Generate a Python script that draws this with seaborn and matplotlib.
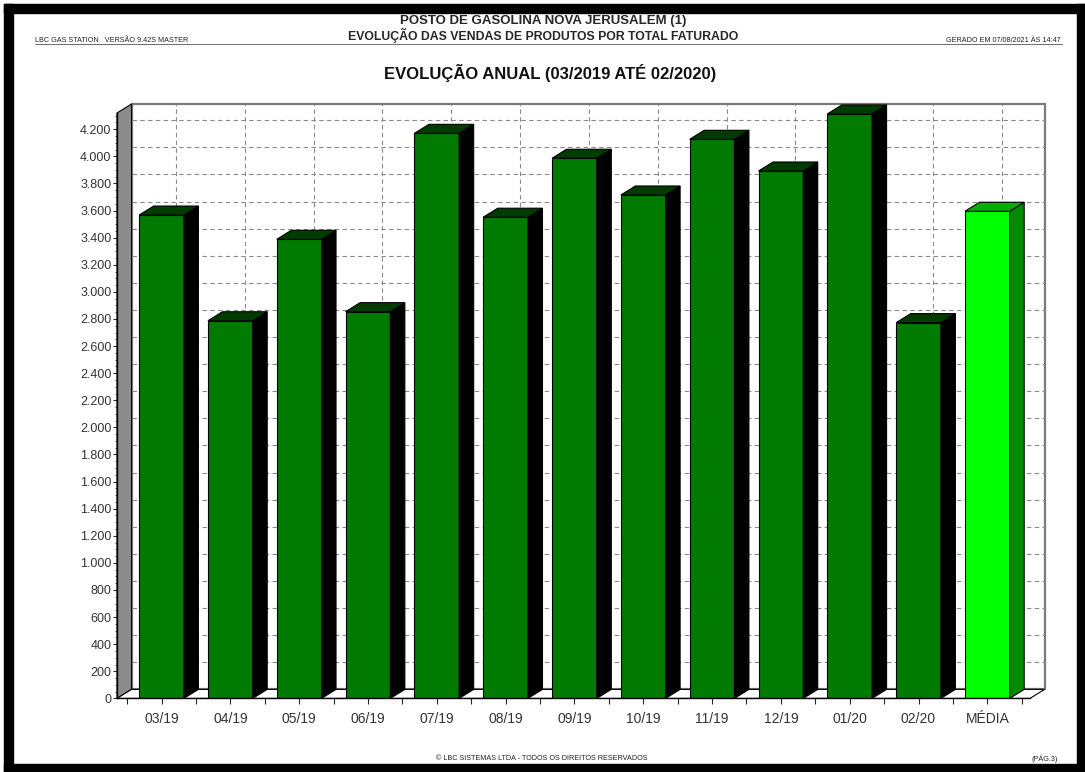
import matplotlib
matplotlib.use("Agg")
import matplotlib.pyplot as plt
from matplotlib.patches import Polygon, Rectangle
from matplotlib.ticker import FuncFormatter, MultipleLocator, FixedLocator
import numpy as np
import pandas as pd
import seaborn as sns

# valores (total faturado por mes)
meses = ["03/19", "04/19", "05/19", "06/19", "07/19", "08/19", "09/19",
         "10/19", "11/19", "12/19", "01/20", "02/20", "MÉDIA"]
valores = [3567, 2787, 3388, 2854, 4170, 3551, 3986, 3715, 4126, 3892,
           4313, 2773, 3595]
y_ticks = list(range(0, 4201, 200))

cor_frente = ["#007a00"] * 12 + ["#00ff00"]
cor_lado = ["#000000"] * 12 + ["#008a00"]
cor_topo = ["#003c00"] * 12 + ["#00b000"]

sns.set_style("white")
plt.rcParams["font.family"] = ["Liberation Sans", "DejaVu Sans"]

W, H = 1085, 772
fig = plt.figure(figsize=(W / 100, H / 100), dpi=100)

# moldura preta da pagina
def px_rect(x0, y0, x1, y1, color):
    fig.patches.append(Rectangle((x0 / W, 1 - y1 / H), (x1 - x0) / W, (y1 - y0) / H,
                                 transform=fig.transFigure, color=color, zorder=0))

px_rect(4, 4, W, 13, "black")
px_rect(4, 4, 13, H, "black")
px_rect(1077, 4, W, H, "black")
px_rect(4, 764, W, H, "black")

# cabecalho
def ftext(x, y, s, **kw):
    fig.text(x / W, 1 - y / H, s, **kw)

ftext(543, 21, "POSTO DE GASOLINA NOVA JERUSALEM (1)", ha="center", va="center",
      fontsize=9.5, fontweight="bold")
ftext(543, 35, "EVOLUÇÃO DAS VENDAS DE PRODUTOS POR TOTAL FATURADO", ha="center",
      va="center", fontsize=8.8, fontweight="bold")
ftext(35, 40, "LBC GAS STATION   VERSÃO 9.42S MASTER", ha="left", va="center",
      fontsize=5.2, color="#222222")
ftext(1061, 40, "GERADO EM 07/08/2021 ÀS 14:47", ha="right", va="center",
      fontsize=5.2, color="#222222")
fig.add_artist(plt.Line2D([35 / W, 1062 / W], [1 - 43.5 / H, 1 - 43.5 / H],
                          transform=fig.transFigure, color="#555555", lw=0.6))
ftext(550, 73, "EVOLUÇÃO ANUAL (03/2019 ATÉ 02/2020)", ha="center", va="center",
      fontsize=12, fontweight="bold", color="#111111")
ftext(542, 759, "© LBC SISTEMAS LTDA - TODOS OS DIREITOS RESERVADOS", ha="center",
      va="center", fontsize=5.2, color="#222222")
ftext(1058, 759, "(PÁG.3)", ha="right", va="center", fontsize=5.2, color="#222222")

# area do grafico (plano frontal)
x_px0, x_px1 = 117, 1030
y_px0, y_px1 = 698.4, 113
ax = fig.add_axes([x_px0 / W, 1 - y_px0 / H, (x_px1 - x_px0) / W, (y_px0 - y_px1) / H])
ax.patch.set_visible(False)

xl, xr = -0.647, 12.62
ytop = 4320
ax.set_xlim(xl, xr)
ax.set_ylim(0, ytop)

# profundidade 3D em pixels convertida para unidades de dados
dx = 14.5 / ((x_px1 - x_px0) / (xr - xl))
dy = 9.0 / ((y_px0 - y_px1) / ytop)

df = pd.DataFrame({"mes": meses, "valor": valores})
sns.barplot(data=df, x="mes", y="valor", hue="mes", palette=cor_frente, legend=False,
            saturation=1, width=0.65, edgecolor="black", linewidth=0.8, ax=ax, zorder=3)
ax.set_xlim(xl, xr)
ax.set_ylim(0, ytop)

# paredes
ax.add_patch(Polygon([(xl + dx, dy), (xr + dx, dy), (xr + dx, ytop + dy), (xl + dx, ytop + dy)],
                     closed=True, facecolor="white", edgecolor="#7a7a7a", lw=1.6,
                     zorder=0.1, clip_on=False))
ax.add_patch(Polygon([(xl, 0), (xl + dx, dy), (xl + dx, ytop + dy), (xl, ytop)],
                     closed=True, facecolor="#8c8c8c", edgecolor="black", lw=0.8,
                     zorder=0.4, clip_on=False))
ax.add_patch(Polygon([(xl, 0), (xl + dx, dy), (xr + dx, dy), (xr, 0)],
                     closed=True, facecolor="white", edgecolor="black", lw=0.8,
                     zorder=0.4, clip_on=False))

# grade tracejada na parede do fundo
for v in y_ticks[1:]:
    ax.plot([xl + dx, xr + dx], [v + dy, v + dy], color="#8a8a8a", lw=0.8,
            dashes=(4, 3), zorder=0.2, clip_on=False)
for i in range(len(meses)):
    ax.plot([i + dx, i + dx], [dy, ytop + dy], color="#8a8a8a", lw=0.8,
            dashes=(4, 3), zorder=0.2, clip_on=False)

# faces laterais e topo das barras
barras = sorted([p for p in ax.patches if isinstance(p, Rectangle)], key=lambda p: p.get_x())
barras = [p for p in barras if p.get_height() > 0][:len(meses)]
for k, p in enumerate(barras):
    x0, w, h = p.get_x(), p.get_width(), p.get_height()
    ax.add_patch(Polygon([(x0 + w, 0), (x0 + w + dx, dy), (x0 + w + dx, h + dy), (x0 + w, h)],
                         closed=True, facecolor=cor_lado[k], edgecolor="black", lw=0.8,
                         zorder=3, clip_on=False))
    ax.add_patch(Polygon([(x0, h), (x0 + dx, h + dy), (x0 + w + dx, h + dy), (x0 + w, h)],
                         closed=True, facecolor=cor_topo[k], edgecolor="black", lw=0.8,
                         zorder=3, clip_on=False))

# eixos
for s in ["top", "right"]:
    ax.spines[s].set_visible(False)
for s in ["left", "bottom"]:
    ax.spines[s].set_color("black")
    ax.spines[s].set_linewidth(1.0)
    ax.spines[s].set_zorder(4)

ax.set_yticks(y_ticks)
ax.yaxis.set_minor_locator(MultipleLocator(50))
ax.yaxis.set_major_formatter(FuncFormatter(lambda v, p: f"{v:,.0f}".replace(",", ".")))
ax.xaxis.set_minor_locator(FixedLocator(np.arange(-0.5, len(meses), 1)))
ax.tick_params(axis="y", which="major", direction="out", length=3, width=0.8,
               pad=1, labelsize=9, labelcolor="#333333", left=True)
ax.tick_params(axis="y", which="minor", direction="out", length=1.5, width=0.6, left=True)
ax.tick_params(axis="x", which="both", direction="out", length=4, width=0.8,
               pad=6, labelsize=10, labelcolor="#333333", bottom=True)
ax.set_xlabel("")
ax.set_ylabel("")

plt.savefig("out.png", dpi=100)
